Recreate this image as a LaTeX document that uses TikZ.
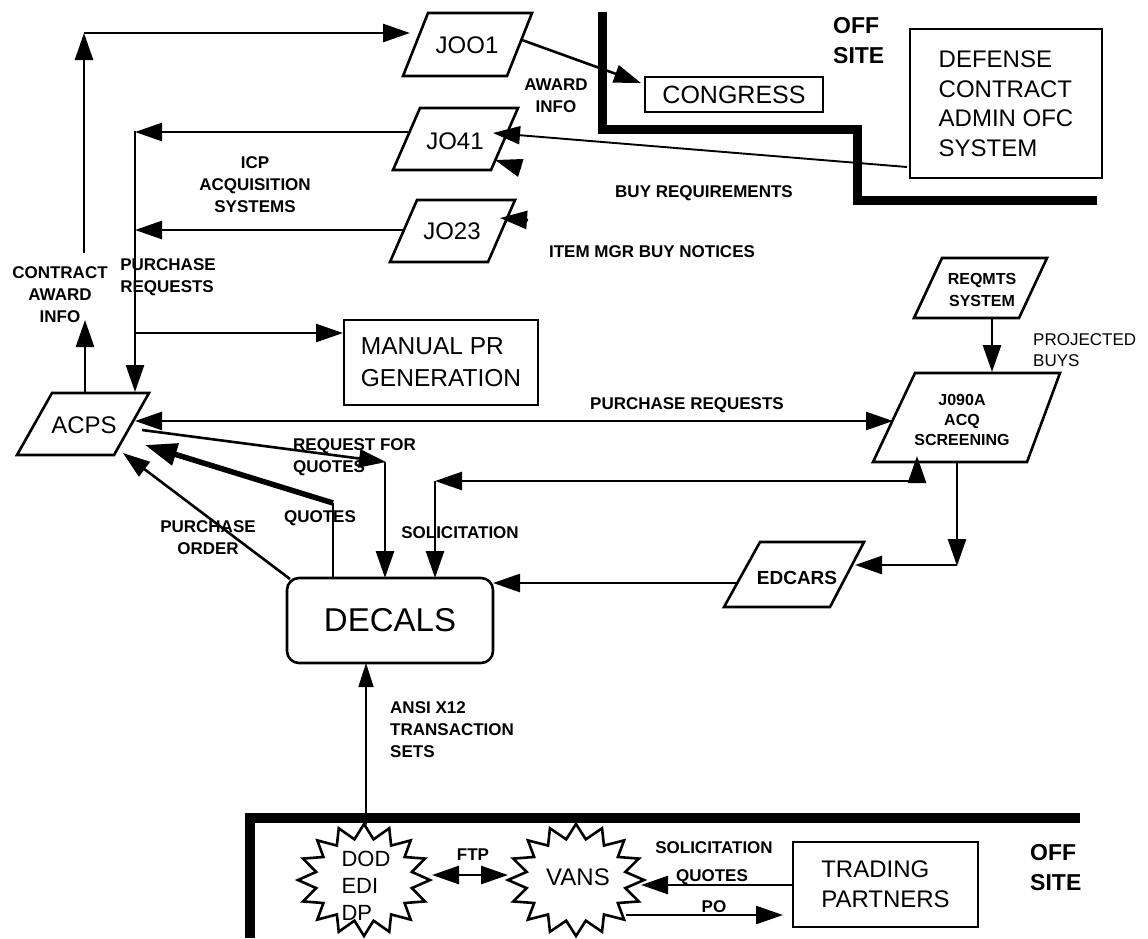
\documentclass[tikz,border=0pt]{standalone}
\usepackage{fontspec}
\setmainfont{Liberation Sans}
\usetikzlibrary{arrows.meta}
\newcommand{\pgram}[6]{\draw[boxline] (#1,#5) -- (#2,#5) -- (#4,#6) -- (#3,#6) -- cycle;}
\newcommand{\mystar}[4]{\draw[boxline] ({#1},{#2-#4}) \foreach \k in {1,...,31}{ -- ({#1+ifthenelse(mod(\k,2)==0,1,0.74)*#3*sin(\k*11.25)},{#2-ifthenelse(mod(\k,2)==0,1,0.74)*#4*cos(\k*11.25)}) } -- cycle;}
\begin{document}
\begin{tikzpicture}[x=1pt,y=-1pt,
  conn/.style={line width=2.6pt, line join=miter, -{Triangle[length=27pt,width=18pt]}},
  both/.style={line width=2.6pt, {Triangle[length=27pt,width=18pt]}-{Triangle[length=27pt,width=18pt]}},
  thickconn/.style={line width=5.5pt, line join=miter, -{Triangle[length=32pt,width=22pt]}},
  boxline/.style={line width=2.6pt, line join=miter},
  rbox/.style={draw, line width=2.6pt, inner sep=0pt},
  lbl/.style={font=\bfseries\fontsize{17}{22}\selectfont, align=center, inner sep=0pt},
  big/.style={font=\fontsize{24}{30}\selectfont, inner sep=0pt},
  wall/.style={line width=9pt, line join=miter}
]
\fill[white] (0,0) rectangle (1148,938);
\useasboundingbox (0,0) rectangle (1148,938);

% walls
\draw[wall] (602,12) -- (602,129) -- (857,129) -- (857,200) -- (1097,200);
\draw[wall, line width=10pt] (250,938) -- (250,818) -- (1080,818);

% parallelograms
\pgram{428}{532}{403}{507}{13}{76}
\pgram{420}{518}{393}{491}{108}{170}
\pgram{417}{515}{390}{488}{200}{262}
\pgram{52}{149}{17}{114}{393}{455}
\pgram{942}{1047}{914}{1019}{258}{318}
\pgram{915}{1060}{873}{1027}{373}{462}
\pgram{760}{864}{724}{830}{542}{607}

\node[big] (j001) at (467,45) {JOO1};
\node[big] (jo41) at (455,141) {JO41};
\node[big] (jo23) at (452,231) {JO23};
\node[big] (acps) at (84,425) {ACPS};
\node[font=\bfseries\fontsize{16}{22}\selectfont, align=center, inner sep=0pt] (reqmts) at (982,290) {REQMTS\\SYSTEM};
\node[font=\bfseries\fontsize{16}{20}\selectfont, align=center, inner sep=0pt] (j090a) at (962,420) {J090A\\ACQ\\SCREENING};
\node[font=\bfseries\fontsize{19}{22}\selectfont, inner sep=0pt] (edcars) at (797,578) {EDCARS};

% boxes
\node[rbox, minimum width=178, minimum height=35, font=\fontsize{25}{30}\selectfont] (cong) at (734,94.5) {CONGRESS};
\node[rbox, minimum width=192, minimum height=149, align=left, font=\fontsize{24}{29.5}\selectfont] (dcao) at (1006,103.5) {DEFENSE\\CONTRACT\\ADMIN OFC\\SYSTEM};
\node[rbox, minimum width=194, minimum height=85, align=left, font=\fontsize{24.5}{32}\selectfont] (manual) at (441,362.5) {MANUAL PR\\GENERATION};
\node[rbox, rounded corners=12pt, minimum width=206, minimum height=85, font=\fontsize{33}{36}\selectfont] (decals) at (390,620.5) {DECALS};
\node[rbox, minimum width=185, minimum height=85, align=left, font=\fontsize{24}{30}\selectfont] (trading) at (885.5,884.5) {TRADING\\PARTNERS};

% stars
\mystar{364}{880}{66}{56}
\mystar{576}{880}{68}{56}
\node[font=\fontsize{22}{27}\selectfont, align=left, inner sep=0pt] (dod) at (366,886) {DOD\\EDI\\DP};
\node[big] (vans) at (578,877) {VANS};

% labels
\node[lbl] (lcai) at (60,295) {CONTRACT\\AWARD\\INFO};
\node[lbl, align=left] (lpr1) at (168,277) {PURCHASE\\REQUESTS};
\node[lbl] (licp) at (255,185) {ICP\\ACQUISITION\\SYSTEMS};
\node[lbl] (laward) at (556,96) {AWARD\\INFO};
\node[lbl] (lbuy) at (704,193) {BUY REQUIREMENTS};
\node[lbl] (litem) at (652,252) {ITEM MGR BUY NOTICES};
\node[lbl, font=\bfseries\fontsize{23}{30}\selectfont, align=left, anchor=west] (offtop) at (833,41) {OFF\\SITE};
\node[lbl] (lpr2) at (687,405) {PURCHASE REQUESTS};
\node[lbl, align=left, anchor=west] (lrfq) at (293,457.5) {REQUEST FOR\\QUOTES};
\node[lbl] (lquotes) at (320,518) {QUOTES};
\node[lbl] (lsol) at (460,533) {SOLICITATION};
\node[lbl] (lpo) at (208,537.5) {PURCHASE\\ORDER};
\node[font=\fontsize{17}{21}\selectfont, align=left, anchor=west, inner sep=0pt] (lproj) at (1033,350) {PROJECTED\\BUYS};
\node[lbl, align=left, anchor=west] (lansi) at (390,730) {ANSI X12\\TRANSACTION\\SETS};
\node[lbl] (lftp) at (473,855) {FTP};
\node[lbl] (lsol2) at (714,848) {SOLICITATION};
\node[lbl] (lquo2) at (712,877) {QUOTES};
\node[lbl] (lpo2) at (714,907) {PO};
\node[lbl, font=\bfseries\fontsize{23}{30}\selectfont, align=left, anchor=west] (offbot) at (1030,868) {OFF\\SITE};

% connector end points
\coordinate (a1) at (85,393); \coordinate (a2) at (85,320);
\coordinate (c1) at (84,253); \coordinate (c2) at (84,33); \coordinate (c3) at (410,33);
\coordinate (j1r) at (522,40); \coordinate (cgl) at (641,83);
\coordinate (dcl) at (907,167); \coordinate (j41r) at (493,133);
\coordinate (h1s) at (521,168); \coordinate (h1t) at (495,160);
\coordinate (h2s) at (528,220); \coordinate (h2t) at (500,218);
\coordinate (j41l) at (408,132); \coordinate (p41) at (135,132);
\coordinate (j23l) at (404,230); \coordinate (p23) at (135,230);
\coordinate (ptop) at (135,131); \coordinate (acpt) at (135,392);
\coordinate (pman) at (135,333); \coordinate (manl) at (343,333);
\coordinate (acpr) at (135,421); \coordinate (j9l) at (893,421);
\coordinate (rq1) at (142,430); \coordinate (rq2) at (386,462); \coordinate (rq3) at (385,462); \coordinate (rq4) at (385,578);
\coordinate (qt1) at (333,578); \coordinate (qt2) at (333,503); \coordinate (qt3) at (145,445);
\coordinate (po1) at (290,579); \coordinate (po2) at (123,453);
\coordinate (so1) at (917,481); \coordinate (so2) at (917,456); \coordinate (so3) at (435,481); \coordinate (so4) at (435,578);
\coordinate (ed1) at (957,463); \coordinate (ed2) at (957,566); \coordinate (ed3) at (957,565); \coordinate (ed4) at (855,565);
\coordinate (edl) at (737,583); \coordinate (decr) at (493,583);
\coordinate (rqb) at (992,318); \coordinate (j9t) at (992,372);
\coordinate (decb) at (366,663); \coordinate (dodt) at (366,826);
\coordinate (dodr) at (432,875); \coordinate (vanl) at (508,875);
\coordinate (trl) at (793,885); \coordinate (vanr) at (641,885);
\coordinate (vpo) at (626,915); \coordinate (trpo) at (783,915);

% connectors
\draw[conn] (a1) -- (a2);
\draw[conn] (c1) -- (c2);
\draw[conn] (c2) -- (c3);
\draw[conn] (j1r) -- (cgl);
\draw[conn, line width=1.9pt] (dcl) -- (j41r);
\draw[conn] (h1s) -- (h1t);
\draw[conn] (h2s) -- (h2t);
\draw[conn] (j41l) -- (p41);
\draw[conn] (j23l) -- (p23);
\draw[conn] (ptop) -- (acpt);
\draw[conn] (pman) -- (manl);
\draw[both] (acpr) -- (j9l);
\draw[conn] (rq1) -- (rq2);
\draw[conn] (rq3) -- (rq4);
\draw[line width=2.6pt] (qt1) -- (qt2);
\draw[thickconn] (qt2) -- (qt3);
\draw[conn] (po1) -- (po2);
\draw[conn] (so1) -- (so2);
\draw[conn] (so1) -- (so3);
\draw[conn] (so3) -- (so4);
\draw[conn] (ed1) -- (ed2);
\draw[conn] (ed3) -- (ed4);
\draw[conn] (edl) -- (decr);
\draw[conn] (rqb) -- (j9t);
\draw[line width=1.6pt, {Triangle[length=24pt,width=15pt]}-{Triangle[length=9pt,width=7pt]}] (decb) -- (dodt);
\draw[both] (dodr) -- (vanl);
\draw[conn] (trl) -- (vanr);
\draw[conn] (vpo) -- (trpo);
\end{tikzpicture}
\end{document}
